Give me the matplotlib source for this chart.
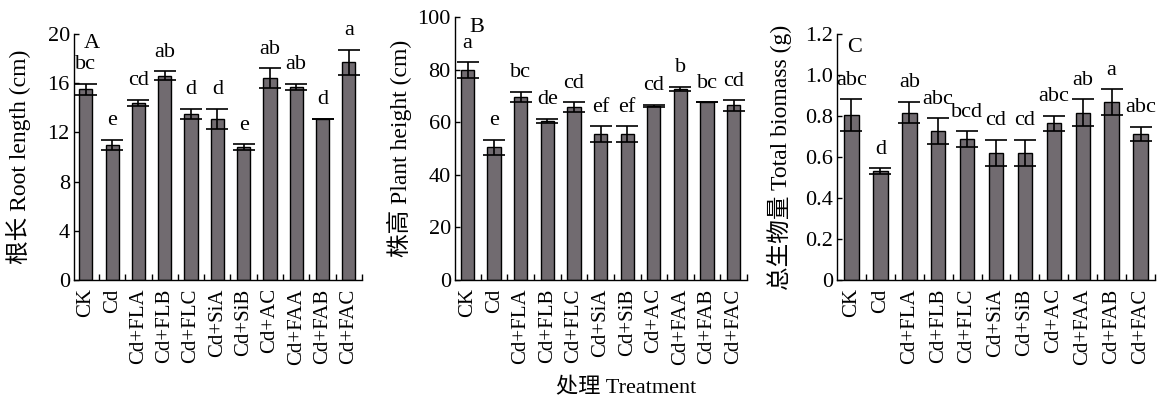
import matplotlib
matplotlib.use('Agg')
import matplotlib.pyplot as plt
import numpy as np
from matplotlib.ticker import FixedLocator, FuncFormatter

plt.rcParams['font.family'] = ['Liberation Serif', 'Noto Sans CJK SC']
plt.rcParams['font.size'] = 15

treatments = ['CK', 'Cd', 'Cd+FLA', 'Cd+FLB', 'Cd+FLC', 'Cd+SiA', 'Cd+SiB',
              'Cd+AC', 'Cd+FAA', 'Cd+FAB', 'Cd+FAC']

root_length = [15.5, 11.0, 14.4, 16.6, 13.5, 13.1, 10.8, 16.4, 15.7, 13.1, 17.7]
root_err = [0.47, 0.40, 0.25, 0.38, 0.44, 0.82, 0.22, 0.82, 0.27, 0.0, 1.03]
root_letters = ['bc', 'e', 'cd', 'ab', 'd', 'd', 'e', 'ab', 'ab', 'd', 'a']

plant_height = [79.7, 50.4, 69.5, 60.5, 65.6, 55.5, 55.5, 66.2, 72.7, 67.5, 66.4]
height_err = [3.0, 2.9, 2.0, 0.8, 1.9, 2.9, 2.9, 0.4, 0.8, 0.0, 2.0]
height_letters = ['a', 'e', 'bc', 'de', 'cd', 'ef', 'ef', 'cd', 'b', 'bc', 'cd']

biomass = [0.803, 0.531, 0.816, 0.727, 0.686, 0.620, 0.620, 0.764, 0.816, 0.869, 0.713]
biomass_err = [0.078, 0.013, 0.052, 0.062, 0.039, 0.065, 0.065, 0.036, 0.065, 0.062, 0.035]
biomass_letters = ['abc', 'd', 'ab', 'abc', 'bcd', 'cd', 'cd', 'abc', 'ab', 'a', 'abc']

W, H = 1165, 398
fig = plt.figure(figsize=(W / 100, H / 100), dpi=100)

bar_color = '#716b70'

panels = [
    dict(rect=(74, 34, 362, 280), vals=root_length, err=root_err, letters=root_letters,
         ylim=(0, 20), yticks=[0, 4, 8, 12, 16, 20], fmt=lambda v, p: f'{v:g}',
         ylabel='根长 Root length (cm)', tag='A', tagpos=(0.035, 1.0),
         xlim=(-0.45, 10.5), labx=-0.15),
    dict(rect=(455, 17, 747, 280), vals=plant_height, err=height_err, letters=height_letters,
         ylim=(0, 100), yticks=[0, 20, 40, 60, 80, 100], fmt=lambda v, p: f'{v:g}',
         ylabel='株高 Plant height (cm)', tag='B', tagpos=(0.048, 0.995),
         xlim=(-0.47, 10.5), labx=-0.148),
    dict(rect=(837, 34, 1155, 280), vals=biomass, err=biomass_err, letters=biomass_letters,
         ylim=(0, 1.2), yticks=[0, 0.2, 0.4, 0.6, 0.8, 1.0, 1.2],
         fmt=lambda v, p: '0' if v == 0 else f'{v:.1f}',
         ylabel='总生物量 Total biomass (g)', tag='C', tagpos=(0.031, 0.985),
         xlim=(-0.5, 10.5), labx=-0.142),
]

x = np.arange(len(treatments))
for p in panels:
    l, t, r, b = p['rect']
    ax = fig.add_axes([l / W, 1 - b / H, (r - l) / W, (b - t) / H])
    ax.bar(x, p['vals'], width=0.5, color=bar_color, edgecolor='black', linewidth=1.0,
           zorder=2)
    ax.errorbar(x, p['vals'], yerr=p['err'], fmt='none', ecolor='black', elinewidth=1.2,
                capsize=8, capthick=1.2, zorder=3)
    for i, (v, e, s) in enumerate(zip(p['vals'], p['err'], p['letters'])):
        ax.annotate(s, (i, v + e), xytext=(0, 10.5), textcoords='offset points',
                    ha='center', va='baseline', fontsize=16, annotation_clip=False)
    ax.set_xlim(*p['xlim'])
    ax.set_ylim(*p['ylim'])
    ax.yaxis.set_major_locator(FixedLocator(p['yticks']))
    ax.yaxis.set_major_formatter(FuncFormatter(p['fmt']))
    ax.set_xticks(x)
    ax.set_xticklabels(treatments, rotation=90)
    ax.xaxis.set_minor_locator(FixedLocator(np.arange(0.5, len(treatments), 1.0)))
    ax.tick_params(axis='x', which='major', length=0, pad=6, labelsize=15)
    ax.tick_params(axis='x', which='minor', direction='in', length=4.5, width=1.0)
    ax.tick_params(axis='y', direction='in', length=3.6, width=1.0, pad=3, labelsize=16)
    for side in ('top', 'right'):
        ax.spines[side].set_visible(False)
    for side in ('left', 'bottom'):
        ax.spines[side].set_linewidth(1.0)
    ax.set_ylabel(p['ylabel'], fontsize=17)
    ax.yaxis.set_label_coords(p['labx'], 0.5)
    ax.text(p['tagpos'][0], p['tagpos'][1], p['tag'], transform=ax.transAxes,
            ha='left', va='top', fontsize=16)

fig.text(626 / W, 1 - 388 / H, '处理 Treatment', ha='center', va='center', fontsize=16)

fig.savefig('out.png', dpi=100)
